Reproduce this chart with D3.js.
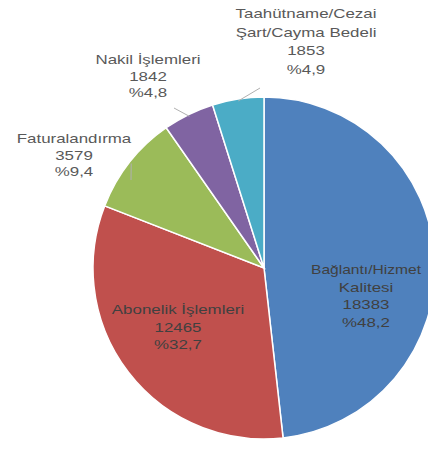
<!DOCTYPE html>
<html>
<head>
<meta charset="utf-8">
<script src="https://cdn.jsdelivr.net/npm/d3@7"></script>
<style>
  html, body { margin: 0; padding: 0; background: #ffffff; }
  svg { display: block; }
</style>
</head>
<body>
<script>
// ---- data ----
const categories = ["Bağlantı/Hizmet Kalitesi", "Abonelik İşlemleri", "Faturalandırma", "Nakil İşlemleri", "Taahütname/Cezai Şart/Cayma Bedeli"];
const values = [18383, 12465, 3579, 1842, 1853];
const percentLabels = ["%48,2", "%32,7", "%9,4", "%4,8", "%4,9"];
const labelLines = [
  ["Bağlantı/Hizmet", "Kalitesi"],
  ["Abonelik İşlemleri"],
  ["Faturalandırma"],
  ["Nakil İşlemleri"],
  ["Taahütname/Cezai", "Şart/Cayma Bedeli"]
];
const colors = ["#4F81BD", "#C0504D", "#9BBB59", "#8064A2", "#4BACC6"];

// ---- layout ----
const W = 428, H = 454;
const cx = 264, cy = 268, R = 171;
const labelPos = [
  {x: 366, y: 271, inside: true, lh: 17.5},
  {x: 178, y: 311, inside: true, lh: 17.5},
  {x: 74, y: 140, inside: false, lh: 16.5},
  {x: 148, y: 61, inside: false, lh: 16.5},
  {x: 306, y: 15, inside: false, lh: 18.5}
];

const svg = d3.select("body").append("svg").attr("width", W).attr("height", H);

const pie = d3.pie().sort(null).value(d => d).startAngle(0).endAngle(2 * Math.PI);
const arcs = pie(values);
const arc = d3.arc().innerRadius(0).outerRadius(R);

const g = svg.append("g").attr("transform", `translate(${cx},${cy})`);
g.selectAll("path").data(arcs).enter().append("path")
  .attr("d", arc)
  .attr("fill", (d, i) => colors[i])
  .attr("stroke", "#ffffff")
  .attr("stroke-width", 1.5);

// leader lines for outside labels
const leaders = [
  null, null,
  {from: 2, to: [131, 180]},
  {from: 3, to: [174, 108]},
  {from: 4, to: [260, 88]}
];
leaders.forEach(l => {
  if (!l) return;
  const a = arcs[l.from];
  const mid = (a.startAngle + a.endAngle) / 2;
  const px = cx + Math.sin(mid) * (R - 2);
  const py = cy - Math.cos(mid) * (R - 2);
  svg.append("line")
    .attr("x1", px).attr("y1", py)
    .attr("x2", l.to[0]).attr("y2", l.to[1])
    .attr("stroke", "#b0b0b0").attr("stroke-width", 1);
});

// labels
categories.forEach((c, i) => {
  const lines = labelLines[i].concat([d3.format("d")(values[i]), percentLabels[i]]);
  const p = labelPos[i];
  lines.forEach((t, k) => {
    const sx = (i === 0 && k === 0) ? 1.2 : 1.3;
    svg.append("text")
      .attr("transform", `translate(${p.x},${p.y + k * p.lh}) scale(${sx},1)`)
      .attr("text-anchor", "middle")
      .attr("dominant-baseline", "middle")
      .attr("font-family", "Liberation Sans, Arial, sans-serif")
      .attr("font-size", 13)
      .attr("fill", p.inside ? "#404040" : "#595959")
      .text(t);
  });
});
</script>
</body>
</html>
